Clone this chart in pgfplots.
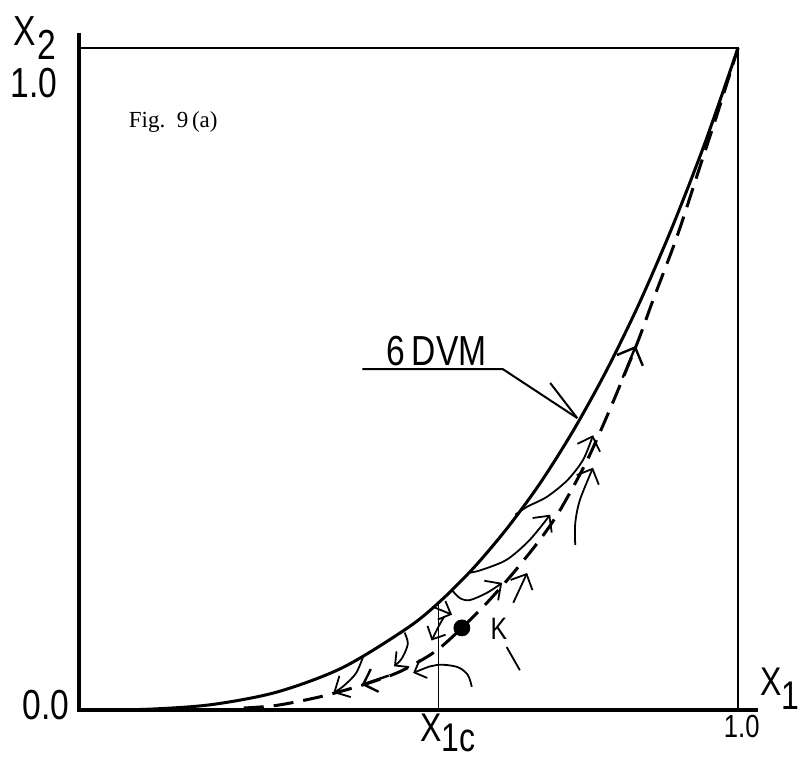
\documentclass[border=0pt]{standalone}
\usepackage{fontspec}
\usepackage{pgfplots}
\pgfplotsset{compat=1.18}
\usetikzlibrary{arrows.meta}
\setmainfont{Liberation Sans}
\newfontfamily\lett[FakeStretch=0.8]{Liberation Sans}
\newfontfamily\figfont{Liberation Serif}
\begin{document}
\begin{tikzpicture}
\begin{axis}[
  scale only axis, width=329.5pt, height=331pt,
  xmin=0, xmax=1, ymin=0, ymax=1,
  axis lines=none, clip=false,
  anchor=south west, at={(0pt,0pt)},
]
% frame
\draw[line width=2pt] (axis cs:0,1.023) -- (axis cs:0,0) -- (axis cs:1.03,0);
\draw[line width=1pt] (axis cs:0,1) -- (axis cs:1,1) -- (axis cs:1,0);
% X1c guide
\draw[line width=0.6pt] (axis cs:0.545,0) -- (axis cs:0.545,0.160);
% 6 DVM curve
\addplot[line width=1.5pt, smooth, black] coordinates {
(0,0) (0.1,0.001) (0.2,0.008) (0.3,0.027) (0.4,0.064) (0.5,0.125) (0.55,0.166)
(0.6,0.216) (0.65,0.275) (0.7,0.343) (0.75,0.422) (0.8,0.512) (0.85,0.614)
(0.9,0.729) (0.95,0.857) (1.0,1.0)};
% dashed curve
\addplot[line width=1.5pt, smooth, black, dash pattern=on 10pt off 5pt] coordinates {
(0.25,0.003) (0.3,0.007) (0.366,0.020) (0.431,0.038) (0.487,0.058) (0.54,0.088)
(0.581,0.124) (0.62,0.163) (0.659,0.207) (0.70,0.258) (0.730,0.302) (0.77,0.375)
(0.806,0.455) (0.847,0.554) (0.871,0.619) (0.907,0.714) (0.942,0.820) (0.97,0.905) (1,1)};
% trajectories
\addplot[line width=0.9pt, smooth, -{Straight Barb[length=6pt]}] coordinates {
(0.662,0.295) (0.680,0.307) (0.710,0.322) (0.741,0.347) (0.765,0.378) (0.780,0.415)};
\addplot[line width=0.9pt, smooth, -{Straight Barb[length=6pt]}] coordinates {
(0.590,0.207) (0.609,0.211) (0.649,0.227) (0.684,0.257) (0.715,0.295)};
\addplot[line width=0.9pt, smooth, -{Straight Barb[length=6pt]}] coordinates {
(0.566,0.181) (0.578,0.169) (0.593,0.166) (0.619,0.177) (0.642,0.192)};
\addplot[line width=0.9pt, smooth, -{Straight Barb[length=6pt]}] coordinates {
(0.753,0.249) (0.753,0.282) (0.760,0.317) (0.780,0.366)};
\addplot[line width=0.9pt] coordinates {(0.669,0.060) (0.649,0.095)};
\addplot[line width=0.9pt, -{Straight Barb[length=6pt]}] coordinates {(0.659,0.162) (0.680,0.207)};
\addplot[line width=0.9pt, smooth, {Straight Barb[length=5pt]}-] coordinates {
(0.507,0.056) (0.543,0.068) (0.574,0.065) (0.590,0.053) (0.596,0.035)};
\addplot[line width=0.9pt, smooth, -{Straight Barb[length=6pt]}] coordinates {
(0.431,0.080) (0.420,0.055) (0.400,0.035) (0.386,0.026)};
\addplot[line width=0.9pt, smooth, -{Straight Barb[length=5pt]}] coordinates {
(0.494,0.117) (0.499,0.100) (0.490,0.078) (0.478,0.066)};
\addplot[line width=0.9pt, smooth, -{Straight Barb[length=5pt]}] coordinates {
(0.554,0.141) (0.545,0.125) (0.535,0.105)};
\addplot[line width=0.9pt, -{Straight Barb[length=5pt]}] coordinates {(0.537,0.156) (0.566,0.144)};
% arrows along dashed curve
\addplot[line width=1.2pt, -{Straight Barb[length=7pt]}] coordinates {(0.825,0.502) (0.845,0.550)};
\addplot[line width=1.2pt, -{Straight Barb[length=6pt]}] coordinates {(0.470,0.052) (0.429,0.038)};
% point K
\addplot[only marks, mark=*, mark size=4pt, black] coordinates {(0.581,0.124)};
% 6 DVM leader
\addplot[line width=1pt] coordinates {(0.43,0.515) (0.643,0.515) (0.756,0.441)};
\addplot[line width=1pt] coordinates {(0.715,0.494) (0.756,0.441)};
% labels
\node[anchor=base west, inner sep=0pt, font=\lett\fontsize{21}{21}\selectfont] at (axis cs:-0.100,1.0045) {X\kern1pt\raisebox{-7pt}{2}};
\node[anchor=base east, inner sep=0pt, font=\lett\fontsize{21}{21}\selectfont] at (axis cs:-0.032,0.925) {1.0};
\node[anchor=base east, inner sep=0pt, font=\lett\fontsize{21}{21}\selectfont] at (axis cs:-0.014,-0.015) {0.0};
\node[anchor=base west, inner sep=0pt, font=\lett\fontsize{16}{16}\selectfont] at (axis cs:0.978,-0.041) {1.0};
\node[anchor=base west, inner sep=0pt, font=\lett\fontsize{20}{20}\selectfont] at (axis cs:1.034,0.022) {X\kern-0.5pt\raisebox{-7pt}{1}};
\node[anchor=base west, inner sep=0pt, font=\lett\fontsize{20}{20}\selectfont] at (axis cs:0.5175,-0.047) {X\raisebox{-5pt}{1c}};
\node[anchor=base west, inner sep=0pt, font=\lett\fontsize{15.5}{15.5}\selectfont] at (axis cs:0.624,0.106) {K};
\node[anchor=base east, inner sep=0pt, font=\lett\fontsize{21}{21}\selectfont] at (axis cs:0.619,0.521) {6\,DVM};
\node[anchor=base west, inner sep=0pt, font=\figfont\fontsize{11.5}{11.5}\selectfont] at (axis cs:0.075,0.88) {Fig.\ \ 9\,(a)};
\end{axis}
\pgfresetboundingbox
\path[use as bounding box] (-39.5pt,-24.5pt) rectangle (361pt,355pt);
\end{tikzpicture}
\end{document}
